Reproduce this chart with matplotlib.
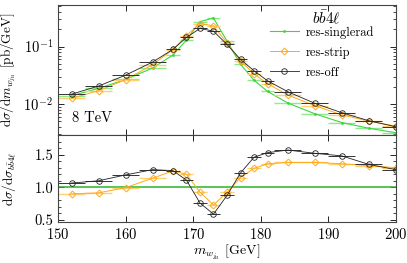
import numpy as np
import matplotlib
matplotlib.use('Agg')
import matplotlib.pyplot as plt

plt.rcParams['font.family'] = 'serif'
plt.rcParams['font.serif'] = ['cmr10']
plt.rcParams['mathtext.fontset'] = 'cm'
plt.rcParams['axes.formatter.use_mathtext'] = True

# bins in m_w (GeV)
bin_center = [152, 156, 160, 164, 167, 169, 171, 173, 175, 177, 179, 181, 184, 188, 192, 196, 200]
bin_halfwidth = [2, 2, 2, 2, 1, 1, 1, 1, 1, 1, 1, 1, 2, 2, 2, 2, 2]

# dsigma/dm [pb/GeV]
singlerad = [0.0140, 0.0187, 0.0268, 0.0425, 0.0712, 0.130, 0.272, 0.315, 0.1246, 0.0491,
             0.0260, 0.0166, 0.01045, 0.00678, 0.00477, 0.0038, 0.00317]
strip = [0.0126, 0.0171, 0.0267, 0.0485, 0.089, 0.156, 0.252, 0.230, 0.1153, 0.0565,
         0.0335, 0.0226, 0.0144, 0.00936, 0.00649, 0.00505, 0.00412]
off = [0.0149, 0.0206, 0.0319, 0.054, 0.0894, 0.1445, 0.207, 0.186, 0.109, 0.0599,
       0.038, 0.0254, 0.0164, 0.0103, 0.00706, 0.00513, 0.00403]

# ratio to res-singlerad
ratio_strip = [0.90, 0.915, 0.995, 1.14, 1.25, 1.20, 0.925, 0.73, 0.925, 1.15,
               1.29, 1.36, 1.38, 1.38, 1.36, 1.33, 1.30]
ratio_off = [1.065, 1.10, 1.19, 1.27, 1.255, 1.11, 0.76, 0.59, 0.875, 1.22,
             1.46, 1.53, 1.57, 1.52, 1.48, 1.35, 1.27]

green = '#3dd63d'
green_bar = '#8eea8e'
orange = '#ffaa1a'
orange_bar = '#ffcf70'
black = '#222222'
black_bar = '#333333'

fig = plt.figure(figsize=(4.07, 2.63), dpi=100)
ax1 = fig.add_axes([0.1425, 0.4867, 0.8305, 0.4943])
ax2 = fig.add_axes([0.1425, 0.156, 0.8305, 0.3307])

x = np.array(bin_center)
xerr = np.array(bin_halfwidth)

# top panel
ax1.errorbar(x, singlerad, xerr=xerr, fmt='none', ecolor=green_bar, elinewidth=1.0)
ax1.plot(x, singlerad, color=green, lw=0.8, marker='.', ms=2, label='res-singlerad')
ax1.errorbar(x, strip, xerr=xerr, fmt='none', ecolor=orange_bar, elinewidth=1.0)
ax1.plot(x, strip, color=orange, lw=0.7, marker='D', ms=3.5, mfc='none', mew=0.7,
         label='res-strip')
ax1.errorbar(x, off, xerr=xerr, fmt='none', ecolor=black_bar, elinewidth=0.7)
ax1.plot(x, off, color=black, lw=0.6, marker='o', ms=4, mfc='none', mew=0.6,
         label='res-off')

ax1.set_yscale('log')
ax1.set_xlim(150, 200)
ax1.set_ylim(2.9e-3, 0.53)
ax1.set_xticks([150, 160, 170, 180, 190, 200])
ax1.tick_params(labelbottom=False)
ax1.set_ylabel(r'$\mathrm{d}\sigma/\mathrm{d}m_{w_{j_\mathrm{B}}}$ [pb/GeV]', fontsize=9.5)
ax1.yaxis.set_label_coords(-0.118, 0.5)
ax1.text(0.04, 0.13, '8 TeV', transform=ax1.transAxes, fontsize=10.5, va='center')
ax1.text(0.795, 0.905, r'$b\bar{b}4\ell$', transform=ax1.transAxes, fontsize=11,
         ha='center', va='center')

leg = ax1.legend(loc='upper right', bbox_to_anchor=(0.955, 0.885), frameon=False,
                 fontsize=9, handlelength=2.3, handletextpad=0.6,
                 labelspacing=0.62, borderpad=0.0)

# ratio panel
ax2.axhline(1.0, color='#28b428', lw=1.1)
ax2.errorbar(x, ratio_strip, xerr=xerr, fmt='none', ecolor=orange_bar, elinewidth=1.0)
ax2.plot(x, ratio_strip, color=orange, lw=0.7, marker='D', ms=3.5, mfc='none', mew=0.7)
ax2.errorbar(x, ratio_off, xerr=xerr, fmt='none', ecolor=black_bar, elinewidth=0.7)
ax2.plot(x, ratio_off, color=black, lw=0.6, marker='o', ms=4, mfc='none', mew=0.6)

ax2.set_xlim(150, 200)
ax2.set_ylim(0.47, 1.8)
ax2.set_xticks([150, 160, 170, 180, 190, 200])
ax2.set_yticks([0.5, 1.0, 1.5])
ax2.set_yticklabels(['0.5', '1.0', '1.5'])
ax2.set_yticks(np.arange(0.5, 1.8, 0.1), minor=True)
ax2.set_xlabel(r'$m_{w_{j_\mathrm{B}}}$ [GeV]', fontsize=10, labelpad=0)
ax2.set_ylabel(r'$\mathrm{d}\sigma/\mathrm{d}\sigma_{b\bar{b}4\ell}$', fontsize=9.5)
ax2.yaxis.set_label_coords(-0.118, 0.5)

for ax in (ax1, ax2):
    ax.tick_params(which='both', direction='in', top=True, right=True, labelsize=10.5)
    ax.tick_params(which='major', length=4, width=0.6)
    ax.tick_params(which='minor', length=2, width=0.5)
    for s in ax.spines.values():
        s.set_linewidth(0.8)
        s.set_color('#444444')

fig.savefig('out.png', dpi=100)
